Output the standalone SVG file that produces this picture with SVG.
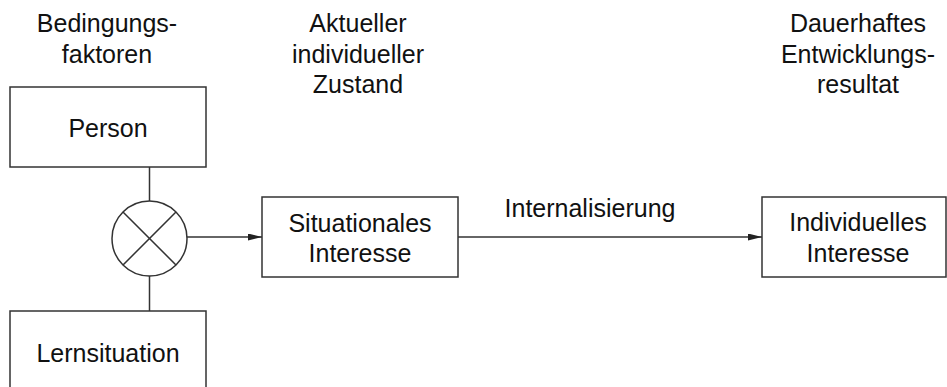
<svg xmlns="http://www.w3.org/2000/svg" width="947" height="387" viewBox="0 0 947 387">
<defs>
<style>
text{font-family:"Liberation Sans",Arial,sans-serif;font-size:25px;fill:#111;text-anchor:middle}
.box{fill:#fff;stroke:#333;stroke-width:1.5}
.ln{fill:none;stroke:#333;stroke-width:1.5}
</style>
<marker id="arr" viewBox="0 0 14 7" refX="14" refY="3.5" markerWidth="14" markerHeight="7" markerUnits="userSpaceOnUse" orient="auto">
<path d="M0,0 L14,3.5 L0,7 Z" fill="#222"/>
</marker>
</defs>
<rect width="947" height="387" fill="#fff"/>
<g id="headers">
<text x="107" y="32">Bedingungs-</text>
<text x="107" y="63">faktoren</text>
<text x="358" y="32">Aktueller</text>
<text x="358" y="63">individueller</text>
<text x="358" y="93">Zustand</text>
<text x="858" y="32">Dauerhaftes</text>
<text x="858" y="63">Entwicklungs-</text>
<text x="858" y="93">resultat</text>
</g>
<g id="connectors">
<line class="ln" x1="149.5" y1="167" x2="149.5" y2="201"/>
<line class="ln" x1="149.5" y1="276" x2="149.5" y2="311"/>
<line class="ln" x1="187" y1="237" x2="262" y2="237" marker-end="url(#arr)"/>
<line class="ln" x1="458" y1="237" x2="762" y2="237" marker-end="url(#arr)"/>
<text x="590" y="217">Internalisierung</text>
</g>
<g id="person">
<rect class="box" x="10" y="87" width="196" height="80"/>
<text x="108" y="137">Person</text>
</g>
<g id="lernsituation">
<rect class="box" x="10" y="311" width="196" height="90"/>
<text x="108" y="362">Lernsituation</text>
</g>
<g id="combine">
<circle class="ln" cx="149.5" cy="238.5" r="37.5" fill="#fff"/>
<line class="ln" x1="123" y1="212" x2="176" y2="265"/>
<line class="ln" x1="176" y1="212" x2="123" y2="265"/>
</g>
<g id="situational">
<rect class="box" x="262" y="197" width="196" height="80"/>
<text x="360" y="232">Situationales</text>
<text x="360" y="262">Interesse</text>
</g>
<g id="individual">
<rect class="box" x="762" y="197" width="184" height="80"/>
<text x="858" y="231">Individuelles</text>
<text x="858" y="262">Interesse</text>
</g>
</svg>
